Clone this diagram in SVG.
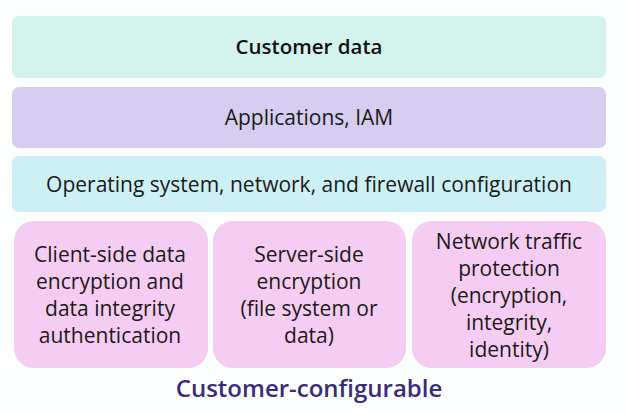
<svg xmlns="http://www.w3.org/2000/svg" width="626" height="414" viewBox="0 0 626 414">
<style>
text{font-family:"Open Sans","Liberation Sans",sans-serif;fill:#1a1a1a;text-anchor:middle}
.t{font-size:21px}
.b{font-size:21px}
.h{font-size:20.5px;font-weight:600;fill:#111}
.f{font-size:24px;font-weight:600;fill:#3a2c7c}
</style>
<rect width="626" height="414" fill="#fdfefe"/>
<g id="customer-data"><rect x="12" y="16" width="594" height="62" rx="7" fill="#d4f3ec"/><text class="h" x="309" y="54">Customer data</text></g>
<g id="applications"><rect x="12" y="87" width="594" height="61" rx="7" fill="#d6cdf0"/><text class="t" x="309" y="125">Applications, IAM</text></g>
<g id="os"><rect x="12" y="156" width="594" height="56" rx="7" fill="#cdf0f5"/><text class="t" x="309" y="192">Operating system, network, and firewall configuration</text></g>
<g id="client-side"><rect x="14" y="221" width="194" height="147" rx="20" fill="#f5cdf3"/>
<text class="b" x="110"><tspan x="110" y="262">Client-side data</tspan><tspan x="110" y="289">encryption and</tspan><tspan x="110" y="316">data integrity</tspan><tspan x="110" y="343">authentication</tspan></text></g>
<g id="server-side"><rect x="213" y="221" width="193" height="147" rx="20" fill="#f5cdf3"/>
<text class="b" x="309"><tspan x="309" y="262">Server-side</tspan><tspan x="309" y="289">encryption</tspan><tspan x="309" y="316">(file system or</tspan><tspan x="309" y="343">data)</tspan></text></g>
<g id="network-traffic"><rect x="412" y="221" width="194" height="147" rx="20" fill="#f5cdf3"/>
<text class="b" x="509"><tspan x="509" y="249">Network traffic</tspan><tspan x="509" y="276">protection</tspan><tspan x="509" y="303">(encryption,</tspan><tspan x="509" y="330">integrity,</tspan><tspan x="509" y="357">identity)</tspan></text></g>
<text class="f" x="309" y="397">Customer-configurable</text>
</svg>
